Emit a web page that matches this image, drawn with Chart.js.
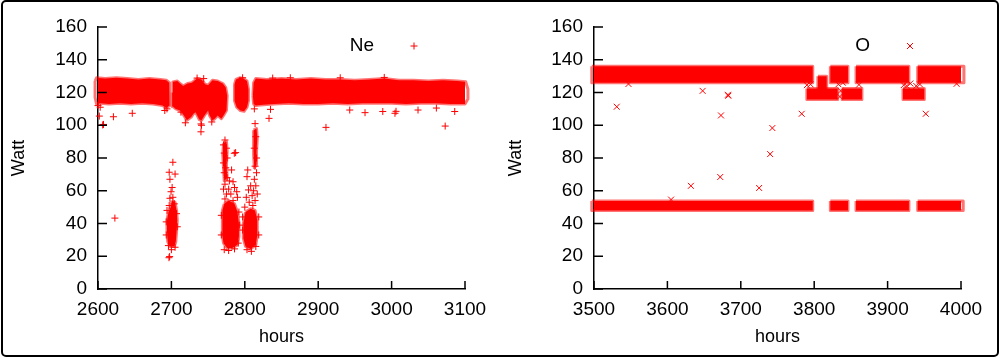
<!DOCTYPE html>
<html><head><meta charset="utf-8">
<script src="https://cdn.jsdelivr.net/npm/chart.js@4.4.1/dist/chart.umd.min.js"></script>
<style>
html,body{margin:0;padding:0;background:#fff;}
#wrap{position:relative;width:1000px;height:358px;overflow:hidden;background:#fff;}
canvas{position:absolute;top:0;}
#c1{left:0;} #c2{left:500px;}
#frame{position:absolute;left:1px;top:0px;width:998px;height:357px;box-sizing:border-box;border:2px solid #000;border-radius:5px;pointer-events:none;}
</style></head><body>
<div id="wrap"><canvas id="c1" width="500" height="358"></canvas><canvas id="c2" width="500" height="358"></canvas><div id="frame"></div></div>
<script>
// ---------- tick labels ----------
const yTicks = [0, 20, 40, 60, 80, 100, 120, 140, 160];
const neXTicks = [2600, 2700, 2800, 2900, 3000, 3100];
const oXTicks = [3500, 3600, 3700, 3800, 3900, 4000];

// ---------- Ne (left) : dense regions as outlines [hours, Watt] ----------
const neBand1 = [[2596,127],[2598,129],[2610,128.5],[2625,129],[2640,128.5],[2655,128],[2670,128.5],[2685,128],[2693,127.5],[2697,126],[2698,118],[2697,112],[2693,110.5],[2688,112],[2675,113],[2660,113.5],[2645,113],[2630,113.5],[2615,113],[2603,113.5],[2598,113],[2596,117]];
const neWavy = [[2701,120],[2702,126.5],[2708,127],[2713,125],[2716,124],[2722,125.5],[2728,126],[2735,128.5],[2741,128],[2746,125],[2750,124.5],[2756,127.5],[2763,127],[2770,125.5],[2774,123],[2776,118],[2775,109],[2771,106],[2768,104],[2763,106],[2759,104],[2756,103],[2752,106],[2750,109],[2745,106],[2741,103],[2738,103.5],[2733,108],[2730,107],[2727,105],[2721,103],[2717,106],[2712,109],[2706,110],[2702,111.5]];
const neBlob = [[2786,125],[2788,128],[2793,129],[2798,128.5],[2803,127],[2805,122],[2805,115],[2803,111],[2799,108.5],[2794,109],[2789,111],[2786,115]];
const neMain = [[2811,118],[2812,126],[2815,128.5],[2830,128],[2850,128.5],[2870,128],[2890,128.5],[2910,128],[2930,128],[2950,127.5],[2970,128],[2990,128.5],[3010,127.5],[3030,127.5],[3050,127],[3070,127.5],[3090,127],[3101,126.5],[3104,122],[3104,116],[3100,113],[3080,113],[3060,113.5],[3040,113.5],[3020,113],[3000,113.5],[2980,113.5],[2960,113.5],[2940,113],[2920,113.5],[2900,113],[2880,113],[2860,113.5],[2840,113],[2825,112.5],[2815,112],[2812,113]];
const neCoreA = [[2701,54],[2705,53],[2707,48],[2708,42],[2707,35],[2706,29],[2704,26],[2698,26],[2695,29],[2694,35],[2694,42],[2696,47],[2699,50]];
const neCoreB = [[2772,52],[2778,54],[2786,52],[2790,47],[2792,40],[2792,32],[2790,27],[2783,25],[2776,25],[2771,28],[2769,34],[2769,42],[2770,48]];
const neColB = [[2771,89],[2775,90],[2776,84],[2775,76],[2776,68],[2772,66],[2771,74],[2770,82]];
const neCoreC = [[2801,47],[2808,49],[2814,48],[2817,42],[2817,33],[2815,27],[2808,24.5],[2801,26],[2798,31],[2798,40]];
const neColC = [[2812,97],[2816,98],[2817,92],[2816,84],[2816,76],[2813,74],[2812,82],[2812,90]];
// ---------- Ne individual points ----------
const neScatter = [
 [2601.8,105.6],[2606.4,100.2],[2607.5,100.5],[2621,105.2],[2646.7,107.3],[2623,43.3],[2740.3,100.8],[2740.3,96],[2833,104.2],[2910.6,98.7],[3073,99.5],
 [2943,109.3],[2963.8,107.7],[2988,108.4],[3004.6,107.3],[3006,108.5],[3036,109.3],[3061,110.5],[3086,108.4],[2835,109.7],[2838,128.8],[2862,129],[2930,129],[2990,129.2],
 [2600,112],[2603,111],[2691,109],[2694,110],[2713,108],[2735,128.8],[2744,128.5],[2797,129],[2741,100],[2755,102],[2719,101.5],[2813,110],
 [2702,77.4],[2697,71.3],[2705,70.2],[2698,67],[2699.5,59.4],[2701,62],[2698,55.4],[2702,56],[2704,52],[2697,51],[2696.7,19.1],[2697.6,19.8],[2696,26.5],[2705,25.5],[2700,24],[2693,33],[2708,38],[2693,41],[2707,46],[2694,48],
 [2773,91],[2771,88],[2775,86],[2772,83],[2776,80],[2771,77],[2774,74],[2772,71],[2776,68],[2773,64],[2771,61],[2775,58],[2773,55],[2785.7,82.9],[2787.5,83.3],[2782,72.7],[2784,65.5],[2779,66],[2789,59.4],[2786,62],[2781,58],[2778,61],[2784,54],[2790,56],[2772,24],[2778,23.5],[2786,24.5],[2791,28],[2768,33],[2793,39],[2768,45],[2792,47],
 [2814,101],[2815,93],[2813,86],[2816,80],[2814,75],[2816,71],[2813,67],[2815,63],[2817,58],[2812,60],[2814,54],[2804,72.7],[2803,68.6],[2805,60.5],[2808,63],[2810,57],[2806,53],[2802,56],[2800,50],[2811,51],[2809,23],[2803,24],[2815,26],[2819,33],[2797,36],[2819,44],[2797,44]
];

// ---------- O (right) : level bands [startHour, endHour] and Watt ranges ----------
const oHighSegments = [[3497,3798],[3822,3846],[3857,3929],[3941,4004]];
const oHighRange = [126, 136];
const oLowSegments = [[3497,3798],[3822,3846],[3857,3929],[3941,4003]];
const oLowRange = [48, 53.8];
const oStepSegments = [[3790,3832],[3838,3865],[3921,3950]];
const oStepRange = [115.8, 122.4];
const oBump = [[3805,3817]];
const oBumpRange = [120, 130];
const oScatter = [[3531,111.3],[3648,121],[3673,106],[3683,118],[3682.5,118.6],[3632,63],[3672,68.4],[3725,61.7],[3740,82.4],[3743,98.3],[3783,107],[3952,107],
 [3547,125.2],[3605,54.6],[3994,125.3],[3790,124.5],[3795,125],[3833,125],[3836,121],[3839,126],[3835,117.5],[3922,124.5],[3926,124],[3931,125.5],[3861,124.8],[3939,124],[3944,125]];

// ---------- helpers ----------
const RED = '#ff0000';
const FAMILY = '"Liberation Sans", Arial, Helvetica, sans-serif';
const FONT = {family: FAMILY, size: 18};
const TICKFONT = {family: FAMILY, size: 19};
const toXY = arr => arr.map(p => ({x: p[0], y: p[1]}));
function polyDataset(poly) {
  const closed = poly.concat([poly[0]]);
  return {type: 'line', data: toXY(closed), fill: 'shape', backgroundColor: RED,
    borderColor: 'rgba(255,0,0,0.55)', borderWidth: 3, borderJoinStyle: 'round',
    pointRadius: 0, tension: 0, clip: 8};
}
function rectPolys(segs, range) {
  return segs.map(s => [[s[0], range[1]], [s[1], range[1]], [s[1], range[0]], [s[0], range[0]]]);
}
function pointDataset(pts, style, r) {
  return {type: 'scatter', data: toXY(pts), pointStyle: style, pointRadius: r,
    borderColor: RED, backgroundColor: RED, pointBorderWidth: 1, clip: 8};
}
function makeScales(xTicks, yWidth, yTitlePad) {
  return {
    x: {type: 'linear', min: xTicks[0], max: xTicks[xTicks.length - 1], z: 1,
      afterBuildTicks: s => { s.ticks = xTicks.map(v => ({value: v})); },
      afterFit: s => { s.height = 69; },
      grid: {display: false, drawTicks: false},
      border: {display: true, color: '#000', width: 1.5},
      ticks: {color: '#000', font: TICKFONT, padding: 9, maxRotation: 0, autoSkip: false, callback: v => String(v)},
      title: {display: true, text: 'hours', color: '#000', font: FONT, padding: {top: 0, bottom: 10}}},
    y: {type: 'linear', min: yTicks[0], max: yTicks[yTicks.length - 1], z: 1,
      afterBuildTicks: s => { s.ticks = yTicks.map(v => ({value: v})); },
      afterFit: s => { s.width = yWidth; },
      grid: {display: false, drawTicks: false},
      border: {display: true, color: '#000', width: 1.5},
      ticks: {color: '#000', font: TICKFONT, padding: 11, autoSkip: false, callback: v => String(v)},
      title: {display: true, text: 'Watt', color: '#000', font: FONT, padding: {top: yTitlePad, bottom: 0}}}
  };
}
function decorPlugin(label, style) {
  return {id: 'decor', afterDraw(chart) {
    const {ctx, chartArea: a, scales: {x, y}} = chart;
    ctx.save();
    ctx.strokeStyle = '#000'; ctx.lineWidth = 1.5;
    ctx.beginPath();
    y.ticks.forEach(t => { const py = y.getPixelForValue(t.value); ctx.moveTo(a.left, py); ctx.lineTo(a.left + 9, py); });
    x.ticks.forEach(t => { const px = x.getPixelForValue(t.value); ctx.moveTo(px, a.bottom); ctx.lineTo(px, a.bottom - 8); });
    ctx.stroke();
    ctx.font = '19px ' + FAMILY;
    ctx.fillStyle = '#000'; ctx.textAlign = 'right'; ctx.textBaseline = 'middle';
    const ky = a.top + 19;
    ctx.fillText(label, a.right - 91, ky);
    const mx = a.right - 51;
    ctx.strokeStyle = RED; ctx.lineWidth = 1;
    ctx.beginPath();
    if (style === 'cross') { ctx.moveTo(mx - 3.5, ky); ctx.lineTo(mx + 3.5, ky); ctx.moveTo(mx, ky - 3.5); ctx.lineTo(mx, ky + 3.5); }
    else { ctx.moveTo(mx - 3, ky - 3); ctx.lineTo(mx + 3, ky + 3); ctx.moveTo(mx - 3, ky + 3); ctx.lineTo(mx + 3, ky - 3); }
    ctx.stroke();
    ctx.restore();
  }};
}
const common = {responsive: false, animation: false, events: [],
  plugins: {legend: {display: false}, tooltip: {enabled: false}}};

new Chart(document.getElementById('c1'), {
  type: 'scatter',
  data: {datasets: [neBand1, neWavy, neBlob, neMain, neCoreA, neCoreB, neColB, neCoreC, neColC].map(polyDataset)
    .concat([pointDataset(neScatter, 'cross', 3.5)])},
  options: Object.assign({}, common, {layout: {padding: {left: 0, right: 35, top: 27, bottom: 0}},
    scales: makeScales(neXTicks, 98, 8)}),
  plugins: [decorPlugin('Ne', 'cross')]
});

new Chart(document.getElementById('c2'), {
  type: 'scatter',
  data: {datasets: rectPolys(oHighSegments, oHighRange)
    .concat(rectPolys(oLowSegments, oLowRange), rectPolys(oStepSegments, oStepRange), rectPolys(oBump, oBumpRange))
    .map(polyDataset).concat([pointDataset(oScatter, 'crossRot', 4.2)])},
  options: Object.assign({}, common, {layout: {padding: {left: 0, right: 39, top: 27, bottom: 0}},
    scales: makeScales(oXTicks, 94, 5)}),
  plugins: [decorPlugin('O', 'crossRot')]
});
</script>
</body></html>
